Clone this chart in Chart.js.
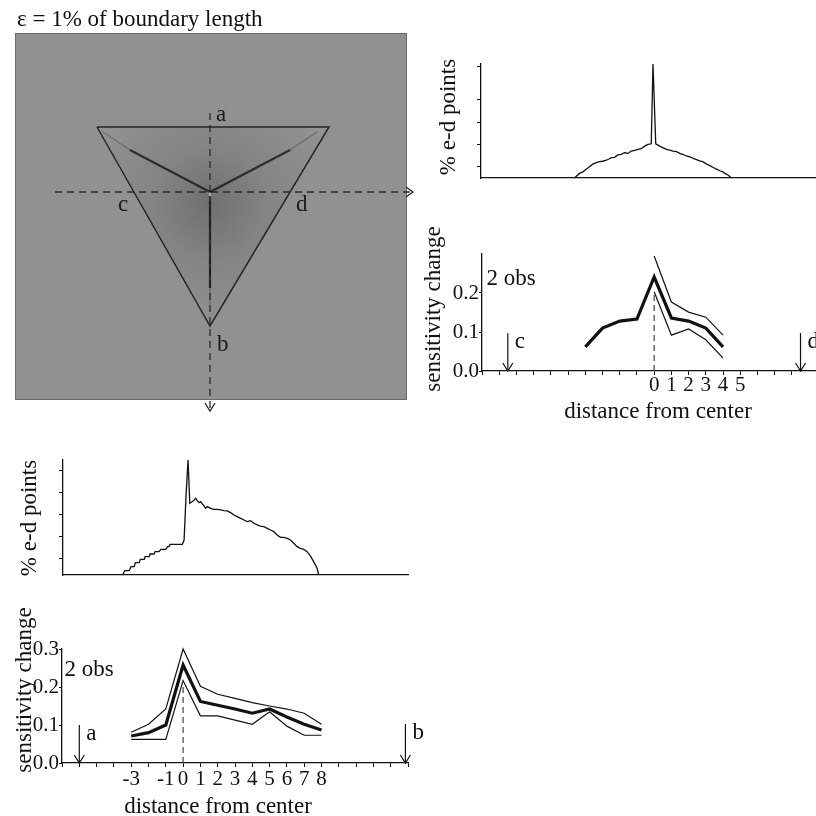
<!DOCTYPE html>
<html>
<head>
<meta charset="utf-8">
<script src="https://cdn.jsdelivr.net/npm/chart.js@4.4.1/dist/chart.umd.min.js"></script>
<style>
  html, body { margin: 0; padding: 0; background: #fff; }
  body { width: 816px; height: 816px; position: relative; overflow: hidden;
         font-family: "Liberation Serif", "Times New Roman", serif; color: #111; }
  canvas { position: absolute; }
  .txt { position: absolute; font-size: 23px; line-height: 1; white-space: nowrap; }
  .rot { transform: translate(-50%, -50%) rotate(-90deg); }
  .mid { transform: translate(-50%, -50%); }
</style>
</head>
<body>
<canvas id="img" width="430" height="425" style="left:0;top:0"></canvas>
<canvas id="histR" width="386" height="140" style="left:430px;top:50px"></canvas>
<canvas id="sensR" width="396" height="185" style="left:420px;top:240px"></canvas>
<canvas id="histB" width="420" height="140" style="left:0;top:450px"></canvas>
<canvas id="sensB" width="430" height="226" style="left:0;top:590px"></canvas>

<div class="txt" style="left:17px;top:7px">ε = 1% of boundary length</div>
<div class="txt rot" style="left:447px;top:117px">% e-d points</div>
<div class="txt rot" style="left:432px;top:309px">sensitivity change</div>
<div class="txt mid" style="left:511px;top:277px">2 obs</div>
<div class="txt mid" style="left:658px;top:410px">distance from center</div>
<div class="txt rot" style="left:28px;top:518px">% e-d points</div>
<div class="txt rot" style="left:23px;top:690px">sensitivity change</div>
<div class="txt mid" style="left:89px;top:668px">2 obs</div>
<div class="txt mid" style="left:218px;top:805px">distance from center</div>

<script>
// image panel, in pixels of the gray square (y grows downwards)
const triX = [82, 314, 195, 82];
const triY = [94, 94, 293, 94];
const junction = [195, 159];
const cutVX = [195, 195], cutVY = [80, 378];   // a -> b
const cutHX = [40, 398], cutHY = [159, 159];   // c -> d
const ridgeDark = [[[195, 159], [115, 117]], [[195, 159], [275, 117]], [[195, 163], [195, 255]]];
const ridgeFaint = [[[115, 117], [88, 99]], [[275, 117], [302, 99]], [[195, 255], [195, 272]]];
const imgLetters = ['a', 'b', 'c', 'd'];
const imgLetterX = [201, 202, 103, 281];
const imgLetterY = [82, 312, 172, 172];

// % e-d points along c-d (top right)
const histRX = [-4.59, -4.30, -4.10, -3.91, -3.72, -3.53, -3.33, -3.14, -2.95, -2.75, -2.56, -2.46, -2.27, -2.07,
  -1.88, -1.69, -1.49, -1.30, -1.10, -0.91, -0.72, -0.52, -0.33, -0.14, -0.04, 0.12, 0.35, 0.55, 0.74, 0.93,
  1.12, 1.32, 1.51, 1.71, 1.90, 2.09, 2.29, 2.48, 2.67, 2.87, 3.06, 3.26, 3.45, 3.64, 3.84, 4.03, 4.13, 4.32, 4.42, 4.52];
const histRY = [0, 0.41, 0.55, 0.79, 1.0, 1.24, 1.38, 1.47, 1.50, 1.59, 1.72, 1.82, 1.85, 2.06,
  2.12, 2.26, 2.20, 2.41, 2.47, 2.56, 2.62, 2.85, 3.0, 3.06, 10.2, 3.06, 2.85, 2.70, 2.56, 2.50,
  2.41, 2.35, 2.21, 2.10, 1.97, 1.90, 1.76, 1.65, 1.53, 1.44, 1.24, 1.10, 0.94, 0.80, 0.65, 0.52, 0.41, 0.25, 0.12, 0];
const histRTicks = [1, 3, 5, 7, 10];

// % e-d points along a-b (bottom left)
const histBX = [-3.55, -3.41, -3.16, -3.06, -2.87, -2.81, -2.58, -2.52, -2.29, -2.24, -2.00, -1.95, -1.72, -1.66,
  -1.43, -1.33, -1.04, -0.94, -0.85, -0.79, -0.08, 0.02, 0.13, 0.25, 0.35, 0.50, 0.60, 0.69, 0.79, 0.89, 0.98,
  1.08, 1.18, 1.27, 1.37, 1.56, 1.75, 1.95, 2.14, 2.33, 2.52, 2.72, 2.91, 3.10, 3.30, 3.49, 3.68, 3.87, 4.07,
  4.26, 4.45, 4.64, 4.84, 5.03, 5.22, 5.41, 5.61, 5.80, 5.99, 6.19, 6.38, 6.57, 6.76, 6.96, 7.15, 7.34, 7.53, 7.73, 7.82];
const histBY = [0, 0.39, 0.39, 0.76, 0.76, 1.12, 1.12, 1.42, 1.42, 1.67, 1.67, 1.91, 1.91, 2.12,
  2.12, 2.33, 2.33, 2.58, 2.58, 2.79, 2.79, 3.18, 7.12, 10.45, 6.52, 6.67, 6.82, 6.97, 6.76, 6.58, 6.67,
  6.45, 6.27, 6.06, 6.21, 6.06, 5.97, 5.97, 5.91, 5.85, 5.82, 5.67, 5.45, 5.30, 5.15, 5.00, 4.85, 4.94, 4.70,
  4.55, 4.45, 4.39, 4.24, 4.09, 3.94, 3.64, 3.42, 3.42, 3.33, 3.18, 2.88, 2.58, 2.42, 2.33, 2.12, 1.73, 1.21, 0.61, 0];
const histBTicks = [1.5, 3.5, 5.5, 7.5, 9.5];

// sensitivity change along c-d (right)
const distR = [-4, -3, -2, -1, 0, 1, 2, 3, 4];
const sensR = [0.062, 0.110, 0.128, 0.133, 0.241, 0.136, 0.128, 0.110, 0.062];
const distRBand = [0, 1, 2, 3, 4];
const sensRHigh = [0.295, 0.177, 0.151, 0.138, 0.092];
const sensRLow = [0.203, 0.092, 0.108, 0.080, 0.033];
const tickLabelsR = [0, 1, 2, 3, 4, 5];
const yTicksR = [0, 0.1, 0.2];
const cutR = { xs: [-8.5, 8.5], tops: [0.097, 0.097], labels: ['c', 'd'] };

// sensitivity change along a-b (bottom)
const distB = [-3, -2, -1, 0, 1, 2, 3, 4, 5, 6, 7, 8];
const sensB = [0.071, 0.080, 0.100, 0.258, 0.162, 0.152, 0.142, 0.131, 0.142, 0.121, 0.102, 0.087];
const sensBHigh = [0.081, 0.102, 0.142, 0.300, 0.202, 0.181, 0.170, 0.159, 0.150, 0.142, 0.131, 0.102];
const sensBLow = [0.062, 0.062, 0.062, 0.217, 0.124, 0.124, 0.113, 0.102, 0.135, 0.097, 0.073, 0.073];
const tickLabelsB = [-3, -1, 0, 1, 2, 3, 4, 5, 6, 7, 8];
const yTicksB = [0, 0.1, 0.2, 0.3];
const cutB = { xs: [-6, 12.85], tops: [0.1, 0.103], labels: ['a', 'b'] };

const serif = '"Liberation Serif", "Times New Roman", serif';
const ink = '#111';
Chart.defaults.font.family = serif;
Chart.defaults.color = ink;
Chart.defaults.animation = false;

const pts = (xs, ys) => xs.map((v, i) => ({ x: v, y: ys[i] }));
const seg = p => p.map(q => ({ x: q[0], y: q[1] }));

function chevron(ctx, x, y, dir) {
  ctx.beginPath();
  if (dir === 'right') { ctx.moveTo(x - 7, y - 5); ctx.lineTo(x, y); ctx.lineTo(x - 7, y + 5); }
  else { ctx.moveTo(x - 5, y - 8); ctx.lineTo(x, y); ctx.lineTo(x + 5, y - 8); }
  ctx.stroke();
}

// gray square, shading inside the triangle, arrow heads and letters
const imagePanel = {
  id: 'imagePanel',
  beforeDatasetsDraw(chart) {
    const { ctx, chartArea: a, scales: { x, y } } = chart;
    ctx.save();
    ctx.fillStyle = '#919191';
    ctx.fillRect(a.left, a.top, a.right - a.left, a.bottom - a.top);
    ctx.beginPath();
    triX.forEach((v, i) => {
      const X = x.getPixelForValue(v), Y = y.getPixelForValue(triY[i]);
      i ? ctx.lineTo(X, Y) : ctx.moveTo(X, Y);
    });
    ctx.closePath();
    ctx.clip();
    const cx = x.getPixelForValue(junction[0]), cy = y.getPixelForValue(junction[1]);
    const g = ctx.createRadialGradient(cx, cy + 12, 0, cx, cy + 12, 125);
    g.addColorStop(0, 'rgba(25,25,25,0.28)');
    g.addColorStop(0.45, 'rgba(25,25,25,0.11)');
    g.addColorStop(1, 'rgba(25,25,25,0)');
    ctx.fillStyle = g;
    ctx.fillRect(a.left, a.top, a.right - a.left, a.bottom - a.top);
    ctx.restore();
    ctx.save();
    ctx.strokeStyle = '#6b6b6b';
    ctx.lineWidth = 1;
    ctx.strokeRect(a.left + 0.5, a.top + 0.5, a.right - a.left - 1, a.bottom - a.top - 1);
    ctx.restore();
  },
  afterDatasetsDraw(chart) {
    const { ctx, scales: { x, y } } = chart;
    ctx.save();
    ctx.strokeStyle = '#222';
    ctx.lineWidth = 1.3;
    chevron(ctx, x.getPixelForValue(cutHX[1]), y.getPixelForValue(cutHY[1]), 'right');
    chevron(ctx, x.getPixelForValue(cutVX[1]), y.getPixelForValue(cutVY[1]), 'down');
    ctx.fillStyle = '#1c1c1c';
    ctx.font = '23px ' + serif;
    ctx.textBaseline = 'middle';
    imgLetters.forEach((t, i) => ctx.fillText(t, x.getPixelForValue(imgLetterX[i]), y.getPixelForValue(imgLetterY[i])));
    ctx.restore();
  }
};

const cutArrows = {
  id: 'cutArrows',
  afterDatasetsDraw(chart, args, opts) {
    if (!opts.xs) return;
    const { ctx, scales: { x, y } } = chart;
    ctx.save();
    ctx.strokeStyle = ink; ctx.fillStyle = ink; ctx.lineWidth = 1.2;
    ctx.font = '23px ' + serif;
    ctx.textBaseline = 'middle';
    opts.xs.forEach((v, i) => {
      const X = x.getPixelForValue(v), top = y.getPixelForValue(opts.tops[i]), bot = y.getPixelForValue(0);
      ctx.beginPath(); ctx.moveTo(X, top); ctx.lineTo(X, bot); ctx.stroke();
      chevron(ctx, X, bot, 'down');
      ctx.fillText(opts.labels[i], X + 7, top + 9);
    });
    ctx.restore();
  }
};

const ridgeSets = [];
ridgeDark.forEach(p => ridgeSets.push({ data: seg(p), borderColor: 'rgba(22,22,22,0.8)', borderWidth: 2.2 }));
ridgeFaint.forEach(p => ridgeSets.push({ data: seg(p), borderColor: 'rgba(40,40,40,0.3)', borderWidth: 1.5 }));

new Chart(document.getElementById('img'), {
  type: 'scatter',
  data: {
    datasets: [
      ...ridgeSets,
      { data: seg([junction, [195, 168]]), borderColor: 'rgba(235,235,235,0.9)', borderWidth: 1.2 },
      { data: pts(triX, triY), borderColor: '#262626', borderWidth: 1.5 },
      { data: pts(cutVX, cutVY), borderColor: '#2a2a2a', borderWidth: 1.3, borderDash: [7, 5] },
      { data: pts(cutHX, cutHY), borderColor: '#2a2a2a', borderWidth: 1.3, borderDash: [7, 5] }
    ].map(d => Object.assign({ showLine: true, pointRadius: 0, clip: false, tension: 0 }, d))
  },
  options: {
    responsive: false,
    layout: { padding: { left: 15, top: 33, right: 23, bottom: 25 } },
    plugins: { legend: { display: false }, tooltip: { enabled: false } },
    scales: {
      x: { display: false, min: 0, max: 392 },
      y: { display: false, min: 0, max: 367, reverse: true }
    }
  },
  plugins: [imagePanel]
});

function histChart(id, xs, ys, xMin, xMax, yMax, yTicks, yWidth, xHeight, pad) {
  return new Chart(document.getElementById(id), {
    type: 'line',
    data: { datasets: [{ data: pts(xs, ys), borderColor: ink, borderWidth: 1.3, pointRadius: 0, tension: 0, clip: false }] },
    options: {
      responsive: false,
      layout: { padding: pad },
      plugins: { legend: { display: false }, tooltip: { enabled: false } },
      scales: {
        x: {
          type: 'linear', min: xMin, max: xMax,
          grid: { display: false }, ticks: { display: false },
          border: { color: ink, width: 1.3 },
          afterFit: s => { s.height = xHeight; }
        },
        y: {
          min: 0, max: yMax,
          afterBuildTicks: s => { s.ticks = yTicks.map(v => ({ value: v })); },
          ticks: { display: false },
          grid: { drawOnChartArea: false, drawTicks: true, tickLength: 4, color: ink, lineWidth: 1 },
          border: { color: ink, width: 1.3 },
          afterFit: s => { s.width = yWidth; }
        }
      }
    }
  });
}

histChart('histR', histRX, histRY, -10, 9.4, 10.2, histRTicks, 51, 12, { top: 14, right: 0, left: 0, bottom: 0 });
histChart('histB', histBX, histBY, -7, 13, 10.45, histBTicks, 63, 15, { top: 10, right: 12, left: 0, bottom: 0 });

function sensChart(id, o) {
  const lowPeak = o.low[o.bandX.indexOf(0)];
  const thin = { borderColor: ink, borderWidth: 1.2, pointRadius: 0, tension: 0, clip: false };
  return new Chart(document.getElementById(id), {
    type: 'line',
    data: {
      datasets: [
        Object.assign({ data: pts([0, 0], [0, lowPeak]), borderDash: [6, 4] }, thin, { borderColor: '#444' }),
        Object.assign({ data: pts(o.bandX, o.high) }, thin),
        Object.assign({ data: pts(o.bandX, o.low) }, thin),
        { data: pts(o.dist, o.sens), borderColor: ink, borderWidth: 3.2, pointRadius: 0, tension: 0, clip: false }
      ]
    },
    options: {
      responsive: false,
      layout: { padding: o.pad },
      plugins: { legend: { display: false }, tooltip: { enabled: false }, cutArrows: o.cut },
      scales: {
        x: {
          type: 'linear', min: o.xMin, max: o.xMax,
          ticks: {
            stepSize: 1, autoSkip: false, maxRotation: 0, padding: o.xPad,
            font: { size: 21, lineHeight: 1 },
            callback: v => o.xLabels.includes(v) ? String(v) : ''
          },
          grid: { drawOnChartArea: false, drawTicks: true, tickLength: 4, color: ink, lineWidth: 1 },
          border: { color: ink, width: 1.3 },
          afterFit: s => { s.height = o.xHeight; }
        },
        y: {
          min: 0, max: 0.3,
          afterBuildTicks: s => { s.ticks = o.yTicks.map(v => ({ value: v })); },
          ticks: { padding: 0, font: { size: 21, lineHeight: 1 }, callback: v => v.toFixed(1) },
          grid: { drawOnChartArea: false, drawTicks: true, tickLength: 3, color: ink, lineWidth: 1 },
          border: { color: ink, width: 1.3 },
          afterFit: s => { s.width = o.yWidth; }
        }
      }
    },
    plugins: [cutArrows]
  });
}

sensChart('sensR', {
  dist: distR, sens: sensR, bandX: distRBand, high: sensRHigh, low: sensRLow,
  xMin: -10, xMax: 9.4, xLabels: tickLabelsR, yTicks: yTicksR, cut: cutR,
  yWidth: 62, xHeight: 54, xPad: 0, pad: { top: 14, right: 0, left: 0, bottom: 0 }
});

sensChart('sensB', {
  dist: distB, sens: sensB, bandX: distB, high: sensBHigh, low: sensBLow,
  xMin: -7, xMax: 13, xLabels: tickLabelsB, yTicks: yTicksB, cut: cutB,
  yWidth: 62, xHeight: 53, xPad: 2, pad: { top: 59, right: 22, left: 0, bottom: 0 }
});
</script>
</body>
</html>
